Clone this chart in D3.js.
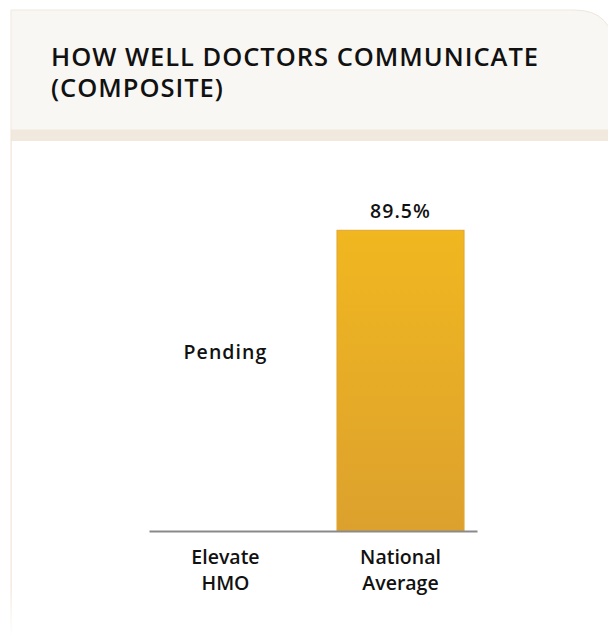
<!DOCTYPE html>
<html>
<head>
<meta charset="utf-8">
<script src="https://cdn.jsdelivr.net/npm/d3@7/dist/d3.min.js"></script>
<style>
  html, body { margin: 0; padding: 0; background: #ffffff; }
  svg { display: block; }
  text { font-family: "Open Sans", "Noto Sans", sans-serif; fill: #111; }
</style>
</head>
<body>
<svg id="chart" width="608" height="639"></svg>
<script>
// Chart data
const titleLines = ["HOW WELL DOCTORS COMMUNICATE", "(COMPOSITE)"];
const categories = [["Elevate", "HMO"], ["National", "Average"]];
const values = [null, 89.5];          // null = result not yet available
const valueLabels = ["Pending", "89.5%"];

const W = 608, H = 639;
const svg = d3.select("#chart");

// Letter-spacing that brings a reference text node to the wanted width
function spacingFor(node, width) {
  const natural = node.getComputedTextLength();
  return Math.max(0, (width - natural) / node.textContent.length);
}

// Card: header panel with rounded top-right corner, band, left rule
const cardX = 11, cardY = 10, r = 42;
const headerBottom = 130;
const defs = svg.append("defs");

svg.append("path")
  .attr("d", `M${cardX},${headerBottom} L${cardX},${cardY} L${W - r + 8},${cardY}
              Q${W + 6},${cardY} ${W + 6},${cardY + r} L${W + 6},${headerBottom} Z`)
  .attr("fill", "#f9f7f3")
  .attr("stroke", "#efe7db")
  .attr("stroke-width", 1);

svg.append("rect")
  .attr("x", cardX).attr("y", headerBottom)
  .attr("width", W - cardX).attr("height", 11)
  .attr("fill", "#f2e9de");

const fade = defs.append("linearGradient")
  .attr("id", "ruleFade").attr("x1", 0).attr("x2", 0).attr("y1", 0).attr("y2", 1);
fade.append("stop").attr("offset", "0.9").attr("stop-color", "#efe4d6");
fade.append("stop").attr("offset", "1").attr("stop-color", "#ffffff");
svg.append("rect")
  .attr("x", cardX - 0.5).attr("y", headerBottom)
  .attr("width", 1.2).attr("height", H - headerBottom - 2)
  .attr("fill", "url(#ruleFade)");

// Title
const title = svg.append("g").selectAll("text")
  .data(titleLines)
  .join("text")
  .attr("x", 51)
  .attr("y", (d, i) => 66 + i * 31)
  .attr("font-size", 25.5)
  .attr("font-weight", 600)
  .text(d => d);
title.attr("letter-spacing", spacingFor(title.node(), 488));

// Scales
const x = d3.scaleBand()
  .domain(d3.range(categories.length))
  .range([149, 477])
  .paddingInner(0.274)
  .paddingOuter(0.074);

const y = d3.scaleLinear().domain([0, 100]).range([531, 195]);

// Bar gradient
const grad = defs.append("linearGradient")
  .attr("id", "barGrad").attr("x1", 0).attr("x2", 0).attr("y1", 0).attr("y2", 1);
grad.append("stop").attr("offset", 0).attr("stop-color", "#f1b720");
grad.append("stop").attr("offset", 1).attr("stop-color", "#dca12d");

const idx = d3.range(categories.length);

// Bars
svg.append("g").selectAll("rect")
  .data(idx.filter(i => values[i] != null))
  .join("rect")
  .attr("x", i => x(i))
  .attr("y", i => y(values[i]))
  .attr("width", x.bandwidth())
  .attr("height", i => y(0) - y(values[i]))
  .attr("fill", "url(#barGrad)")
  .attr("stroke", "#e2a531")
  .attr("stroke-width", 1);

// Baseline axis
const axis = svg.append("g")
  .attr("transform", `translate(0,${y(0)})`)
  .call(d3.axisBottom(x).tickSize(0).tickFormat(""));
axis.select(".domain").attr("stroke", "#8a8a8c").attr("stroke-width", 2);

// Value labels
const labelSize = 19.5;
const valText = svg.append("g").selectAll("text")
  .data(idx)
  .join("text")
  .attr("text-anchor", "middle")
  .attr("font-size", labelSize)
  .attr("font-weight", 600)
  .attr("x", i => x(i) + x.bandwidth() / 2)
  .attr("y", i => values[i] != null ? y(values[i]) - 12 : y(50) - 4)
  .text(i => valueLabels[i]);
valText.attr("letter-spacing", spacingFor(valText.filter(i => values[i] == null).node(), 84));

// Category labels (two lines each)
const catG = svg.append("g").selectAll("text")
  .data(idx)
  .join("text")
  .attr("text-anchor", "middle")
  .attr("font-size", labelSize)
  .attr("font-weight", 600);
const catLines = catG.selectAll("tspan")
  .data(i => categories[i].map(t => ({ i, t })))
  .join("tspan")
  .attr("x", d => x(d.i) + x.bandwidth() / 2)
  .attr("y", (d, k) => 564 + k * 26)
  .text(d => d.t);
{
  const refSpan = catLines.filter(d => d.t === "National").node();
  const natural = refSpan.getComputedTextLength();
  const ls = Math.max(0, (79 - natural) / refSpan.textContent.length);
  catG.attr("letter-spacing", ls);
}
</script>
</body>
</html>
